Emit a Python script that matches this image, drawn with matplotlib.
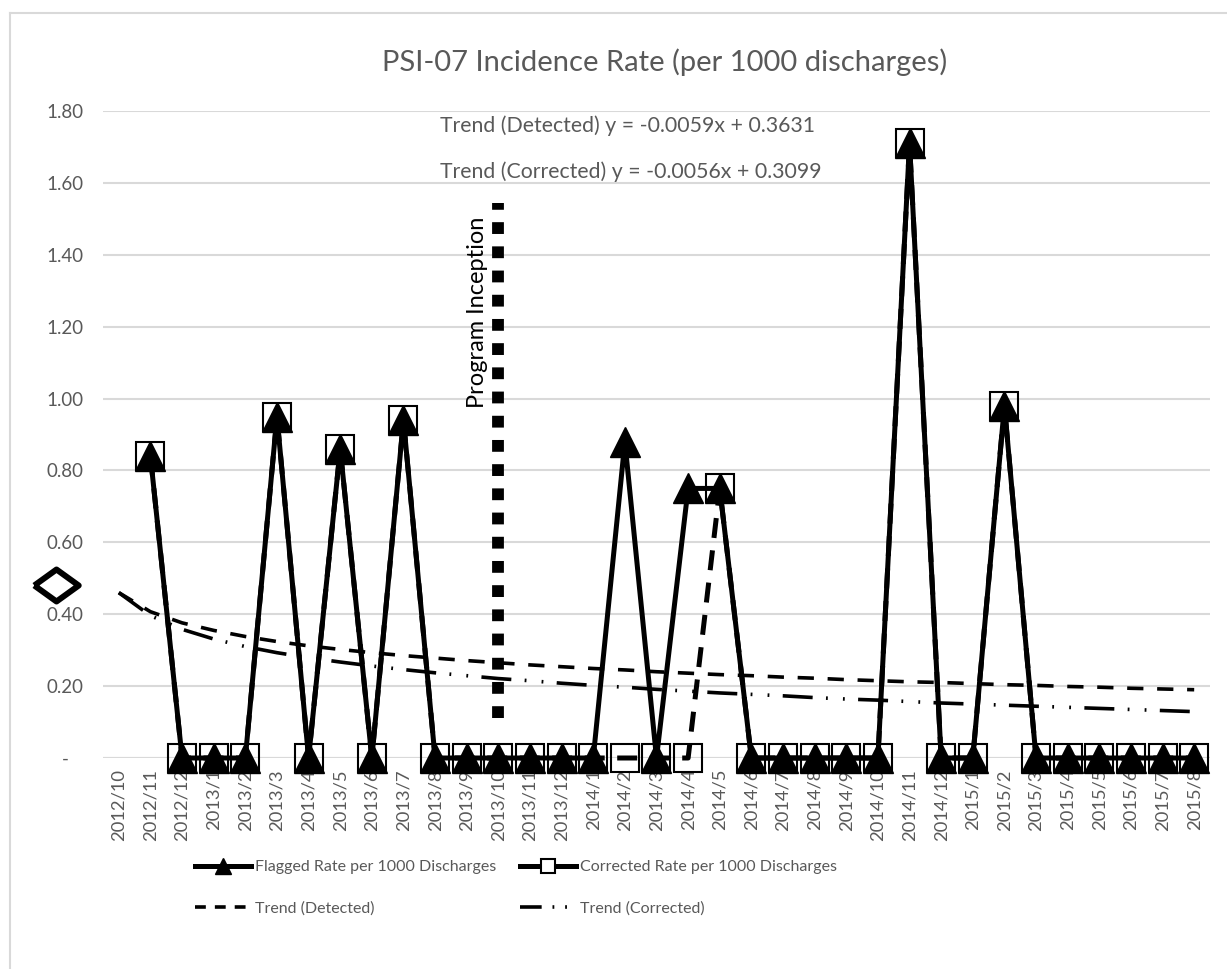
import numpy as np
import matplotlib
matplotlib.use("Agg")
from matplotlib import pyplot as plt
from matplotlib.lines import Line2D

plt.rcParams['font.family'] = ['Lato', 'DejaVu Sans']

# months on the category axis
months = ["2012/10", "2012/11", "2012/12", "2013/1", "2013/2", "2013/3", "2013/4",
          "2013/5", "2013/6", "2013/7", "2013/8", "2013/9", "2013/10", "2013/11",
          "2013/12", "2014/1", "2014/2", "2014/3", "2014/4", "2014/5", "2014/6",
          "2014/7", "2014/8", "2014/9", "2014/10", "2014/11", "2014/12", "2015/1",
          "2015/2", "2015/3", "2015/4", "2015/5", "2015/6", "2015/7", "2015/8"]

# rates per 1000 discharges (nan = no value for that month)
flagged = [np.nan, 0.84, 0, 0, 0, 0.95, 0, 0.86, 0, 0.94, 0, 0, 0, 0, 0, 0,
           0.88, 0, 0.75, 0.75, 0, 0, 0, 0, 0, 1.71, 0, 0, 0.98, 0, 0, 0, 0, 0, 0]
corrected = [np.nan, 0.84, 0, 0, 0, 0.95, 0, 0.86, 0, 0.94, 0, 0, 0, 0, 0, 0,
             0, 0, 0, 0.75, 0, 0, 0, 0, 0, 1.71, 0, 0, 0.98, 0, 0, 0, 0, 0, 0]

# trend curves
trend_detected = [0.460, 0.407, 0.376, 0.355, 0.338, 0.324, 0.312, 0.302, 0.293,
                  0.285, 0.278, 0.271, 0.265, 0.259, 0.254, 0.249, 0.245, 0.240,
                  0.236, 0.232, 0.229, 0.225, 0.222, 0.218, 0.215, 0.212, 0.210,
                  0.207, 0.204, 0.202, 0.199, 0.197, 0.194, 0.192, 0.190]
trend_corrected = [0.460, 0.396, 0.358, 0.331, 0.310, 0.293, 0.279, 0.267, 0.256,
                   0.246, 0.237, 0.229, 0.221, 0.215, 0.208, 0.202, 0.197, 0.191,
                   0.186, 0.181, 0.177, 0.173, 0.168, 0.164, 0.161, 0.157, 0.153,
                   0.150, 0.147, 0.144, 0.141, 0.138, 0.135, 0.132, 0.129]

inception_month = "2013/10"
inception_span = [0.11, 1.545]
stray_point = [-2, 0.48]   # odd diamond left on the value axis

yticks = [0, 0.2, 0.4, 0.6, 0.8, 1.0, 1.2, 1.4, 1.6, 1.8]
ylabels = ["-   ", "0.20", "0.40", "0.60", "0.80", "1.00", "1.20", "1.40", "1.60", "1.80"]

grey = "#595959"
x = np.arange(len(months))
dash_dot_dot = (8.3, 3.7, 0.5, 4.2, 0.5, 3.7)

fig = plt.figure(figsize=(12.27, 9.69), dpi=100)
ax = fig.add_axes([103/1227, 1 - 758/969, 1107/1227, 647/969])

# chart area border (only left/top visible in the crop)
fig.add_artist(Line2D([10/1227, 10/1227], [0, 1 - 13/969], color="#d9d9d9", lw=1.5))
fig.add_artist(Line2D([10/1227, 1], [1 - 13/969, 1 - 13/969], color="#d9d9d9", lw=1.5))

ax.plot(x, trend_detected, color="black", lw=2.6, dashes=(4.5, 3.8), zorder=2)
ax.plot(x, trend_corrected, color="black", lw=2.6, dashes=dash_dot_dot, zorder=2)

ax.plot(x, corrected, color="black", lw=3.6, dashes=(4, 2.5), marker="s", ms=20,
        mfc="none", mec="black", mew=1.5, zorder=3, clip_on=False)
ax.plot(x, flagged, color="black", lw=3.6, marker="^", ms=21, mfc="black",
        mec="black", zorder=4, clip_on=False)

xi = months.index(inception_month)
ax.plot([xi, xi], inception_span, color="black", lw=8.5, dashes=(1, 1.05),
        solid_capstyle="butt", dash_capstyle="butt", zorder=5)
ax.text(xi - 0.65, 0.975, "Program Inception", rotation=90, ha="center", va="bottom",
        fontsize=17, color="black")

ax.plot([stray_point[0]], [stray_point[1]], marker=[(-1, 0), (0, 0.72), (1, 0), (0, -0.72), (-1, 0)],
        ms=32, mfc="white", mec="black", mew=4.3, clip_on=False, zorder=6)

ax.text(xi - 1.85, 1.758, "Trend (Detected) y = -0.0059x + 0.3631", fontsize=15.3,
        color=grey, va="center")
ax.text(xi - 1.85, 1.630, "Trend (Corrected) y = -0.0056x + 0.3099", fontsize=15.3,
        color=grey, va="center")

ax.set_xlim(-0.5, len(months) - 0.5)
ax.set_ylim(0, 1.8)
ax.set_yticks(yticks)
ax.set_yticklabels(ylabels)
ax.set_xticks(x)
ax.set_xticklabels(months, rotation=90)
ax.tick_params(axis="both", length=0, labelsize=13.2, labelcolor=grey)
ax.tick_params(axis="y", pad=14, labelsize=13.5)
ax.tick_params(axis="x", pad=8)
ax.grid(axis="y", color="#d9d9d9", lw=1.5)
ax.set_axisbelow(True)
for s in ax.spines.values():
    s.set_visible(False)
ax.axhline(0, color="#d9d9d9", lw=1.5, zorder=0)

fig.text(665/1227, 1 - 62/969, "PSI-07 Incidence Rate (per 1000 discharges)",
         ha="center", va="center", fontsize=21, color=grey)

h_flag = Line2D([], [], color="black", lw=3.6, marker="^", ms=11)
h_corr = Line2D([], [], color="black", lw=3.6, marker="s", ms=10, mfc="white", mew=1.5)
h_tdet = Line2D([], [], color="black", lw=2.6, dashes=(3, 2.5))
h_tcor = Line2D([], [], color="black", lw=2.6, dashes=(6, 3, 0.5, 3, 0.5, 3))
# matplotlib fills legend columns first, so order gives rows: flagged/corrected, trends
handles = [h_flag, h_tdet, h_corr, h_tcor]
labels = ["Flagged Rate per 1000 Discharges", "Trend (Detected)",
          "Corrected Rate per 1000 Discharges", "Trend (Corrected)"]
fig.legend(handles, labels, loc="center left", bbox_to_anchor=(195/1227, 1 - 888/969), ncol=2,
           frameon=False, fontsize=11.5, labelcolor=grey, handlelength=3.5, borderpad=0,
           borderaxespad=0, handletextpad=0.25, columnspacing=1.5, labelspacing=1.7)

fig.savefig("out.png", dpi=100)
